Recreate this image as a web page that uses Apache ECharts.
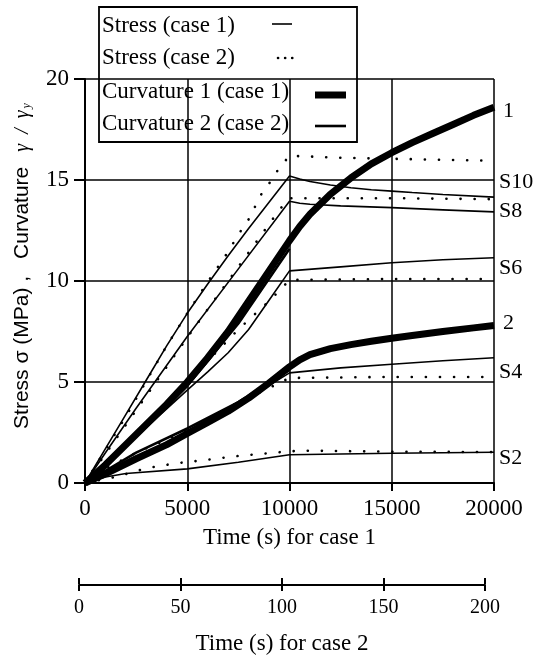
<!DOCTYPE html>
<html>
<head>
<meta charset="utf-8">
<script src="https://cdn.jsdelivr.net/npm/echarts@6/dist/echarts.min.js"></script>
<style>
  html, body { margin: 0; background: #fff; }
  #chart { width: 534px; height: 657px; }
</style>
</head>
<body>
<div id="chart"></div>
<script>
// time in seconds of case 1 (case 2 time = t / 100)
const s10Case1 = [[0,0],[1000,1.7],[2000,3.4],[3000,5.1],[4000,6.8],[5000,8.4],[6000,9.85],[7000,11.25],[8000,12.6],[9000,13.9],[10000,15.2],[10500,15.05],[11000,14.93],[12000,14.75],[13000,14.62],[14000,14.52],[15000,14.45],[16000,14.38],[17500,14.28],[20000,14.15]];
const s8Case1  = [[0,0],[1000,1.5],[2500,3.7],[5000,7.25],[7500,10.6],[10000,13.95],[10500,13.85],[11000,13.8],[12500,13.72],[15000,13.63],[17500,13.52],[20000,13.42]];
const s6Case1  = [[0,0],[2500,2.3],[5000,4.6],[6000,5.5],[7000,6.45],[8000,7.6],[9000,9.05],[10000,10.5],[12500,10.7],[15000,10.9],[17500,11.05],[20000,11.15]];
const s4Case1  = [[0,0],[2500,1.3],[5000,2.5],[7500,3.9],[10000,5.45],[12500,5.7],[15000,5.88],[17500,6.05],[20000,6.2]];
const s2Case1  = [[0,0],[1000,0.3],[2000,0.47],[5000,0.7],[7500,1.03],[10000,1.4],[15000,1.47],[20000,1.52]];

const s10Case2 = [[0,0],[2000,3.3],[4000,6.8],[5000,8.4],[6000,9.95],[7000,11.45],[7500,12.3],[8000,13.05],[8650,14.35],[9100,14.96],[9500,15.6],[10000,16.2],[12500,16.1],[15000,16.05],[17500,16.0],[20000,15.95]];
const s8Case2  = [[0,0],[2500,3.6],[5000,7.2],[7500,10.7],[9130,13.0],[9570,13.6],[10000,14.1],[15000,14.1],[20000,14.05]];
const s6Case2  = [[0,0],[2500,2.5],[5000,5.0],[7500,7.6],[8460,8.5],[9000,9.0],[9530,9.55],[10000,10.05],[15000,10.1],[20000,10.1]];
const s4Case2  = [[0,0],[1000,0.7],[2600,1.55],[4000,2.15],[5300,2.8],[6000,3.15],[7500,4.0],[9000,4.7],[10000,5.2],[15000,5.25],[20000,5.25]];
const s2Case2  = [[0,0],[1500,0.3],[3000,0.73],[4400,0.97],[5900,1.14],[7300,1.32],[8800,1.46],[10000,1.57],[11000,1.6],[15000,1.55],[20000,1.53]];

const curv1Loc1 = [[0,0],[1000,0.9],[2500,2.4],[4000,3.9],[5000,5.0],[6000,6.2],[7000,7.5],[8000,9.0],[9000,10.5],[10000,12.0],[10500,12.7],[11000,13.3],[12000,14.3],[13000,15.1],[14000,15.8],[15000,16.35],[16000,16.85],[17000,17.3],[18000,17.75],[19000,18.2],[20000,18.6]];
const curv1Loc2 = [[0,0],[1000,0.45],[2500,1.2],[4000,1.9],[5000,2.45],[6000,3.0],[7000,3.55],[8000,4.2],[9000,4.95],[10000,5.75],[10500,6.1],[11000,6.35],[12000,6.65],[13000,6.85],[14000,7.02],[15000,7.17],[16000,7.3],[17500,7.5],[19000,7.68],[20000,7.8]];
const curv2Loc1 = [[0,0],[2500,2.3],[5000,4.8],[7500,7.9],[10000,11.6]];
const curv2Loc2 = [[0,0],[2500,1.5],[5000,2.7],[7500,4.0],[10000,5.6]];

const yTicks = [0, 5, 10, 15, 20];
const xTicksCase1 = [0, 5000, 10000, 15000, 20000];
const xTicksCase2 = [0, 50, 100, 150, 200];
const legendNames = ['Stress (case 1)', 'Stress (case 2)', 'Curvature 1 (case 1)', 'Curvature 2 (case 2)'];

const SERIF = '"Liberation Serif", "Times New Roman", serif';
const SANS = '"Liberation Sans", Arial, sans-serif';

const chart = echarts.init(document.getElementById('chart'));

const solid = { color: '#000', width: 1.6, type: 'solid' };
const dotted = { color: '#000', width: 2.6, type: [0.1, 14], cap: 'round' };
const thick = { color: '#000', width: 7, type: 'solid', join: 'round' };
const medium = { color: '#000', width: 2.6, type: 'solid' };

function mkLine(name, data, style, opts) {
  opts = opts || {};
  const s = {
    type: 'line',
    name: name,
    data: data,
    xAxisIndex: 0,
    yAxisIndex: 0,
    showSymbol: false,
    symbol: 'none',
    lineStyle: style,
    smooth: false,
    z: opts.z || 2,
    silent: true
  };
  if (opts.label) {
    s.endLabel = {
      show: true,
      formatter: opts.label,
      color: '#000',
      fontFamily: SERIF,
      fontSize: 22,
      distance: opts.dist || 5,
      offset: [0, opts.dy || 0]
    };
  }
  return s;
}

const series = [
  mkLine('Curvature 1 (case 1)', curv1Loc1, thick, { label: '1', dy: 4, dist: 9, z: 3 }),
  mkLine('Curvature 1 (case 1)', curv1Loc2, thick, { label: '2', dy: -2, dist: 9, z: 3 }),
  mkLine('Curvature 2 (case 2)', curv2Loc1, medium),
  mkLine('Curvature 2 (case 2)', curv2Loc2, medium),
  mkLine('Stress (case 1)', s10Case1, solid, { label: 'S10', dy: -15 }),
  mkLine('Stress (case 1)', s8Case1, solid, { label: 'S8', dy: -1 }),
  mkLine('Stress (case 1)', s6Case1, solid, { label: 'S6', dy: 10 }),
  mkLine('Stress (case 1)', s4Case1, solid, { label: 'S4', dy: 14 }),
  mkLine('Stress (case 1)', s2Case1, solid, { label: 'S2', dy: 6 }),
  mkLine('Stress (case 2)', s10Case2, dotted),
  mkLine('Stress (case 2)', s8Case2, dotted),
  mkLine('Stress (case 2)', s6Case2, dotted),
  mkLine('Stress (case 2)', s4Case2, dotted),
  mkLine('Stress (case 2)', s2Case2, dotted)
];

const axisBlack = { color: '#000', width: 2 };
const plainNum = function (v) { return String(v); };
const tickFont = { color: '#000', fontFamily: SERIF, fontSize: 23, formatter: plainNum };

// legend box drawn as graphic
const legendRows = [26, 58, 92, 124];
const legendKids = [
  { type: 'rect', shape: { x: 99, y: 7, width: 258, height: 135 },
    style: { fill: '#fff', stroke: '#000', lineWidth: 1.8 } }
];
legendNames.forEach(function (n, i) {
  legendKids.push({ type: 'text', x: 102, y: legendRows[i],
    style: { text: n, fill: '#000', font: '23px ' + SERIF, verticalAlign: 'middle' } });
});
legendKids.push({ type: 'line', shape: { x1: 272, y1: 24, x2: 292, y2: 24 }, style: { stroke: '#000', lineWidth: 1.6 } });
legendKids.push({ type: 'line', shape: { x1: 278, y1: 58, x2: 294, y2: 58 },
  style: { stroke: '#000', lineWidth: 2.6, lineDash: [0.1, 7], lineCap: 'round' } });
legendKids.push({ type: 'line', shape: { x1: 315, y1: 95, x2: 346, y2: 95 }, style: { stroke: '#000', lineWidth: 7 } });
legendKids.push({ type: 'line', shape: { x1: 315, y1: 126, x2: 346, y2: 126 }, style: { stroke: '#000', lineWidth: 2.6 } });

const option = {
  animation: false,
  backgroundColor: '#fff',
  grid: [
    { left: 85, right: 40, top: 79, bottom: 174 },
    { left: 79, right: 49, top: 584, height: 1 }
  ],
  xAxis: [
    {
      gridIndex: 0, type: 'value',
      min: xTicksCase1[0], max: xTicksCase1[xTicksCase1.length - 1], interval: xTicksCase1[1] - xTicksCase1[0],
      axisLine: { lineStyle: axisBlack },
      axisTick: { length: 8, lineStyle: axisBlack },
      axisLabel: Object.assign({ margin: 14 }, tickFont),
      splitLine: { show: true, lineStyle: { color: '#000', width: 1.5 } },
      name: 'Time (s) for case 1', nameLocation: 'middle', nameGap: 43,
      nameTextStyle: { color: '#000', fontFamily: SERIF, fontSize: 23 }
    },
    {
      gridIndex: 1, type: 'value', position: 'bottom',
      min: xTicksCase2[0], max: xTicksCase2[xTicksCase2.length - 1], interval: xTicksCase2[1] - xTicksCase2[0],
      axisLine: { lineStyle: axisBlack },
      axisTick: { length: 6, lineStyle: axisBlack },
      axisLabel: Object.assign({ margin: 13 }, tickFont, { fontSize: 20 }),
      splitLine: { show: false },
      name: 'Time (s) for case 2', nameLocation: 'middle', nameGap: 47,
      nameTextStyle: { color: '#000', fontFamily: SERIF, fontSize: 23 }
    },
    {
      gridIndex: 1, type: 'value', position: 'top',
      min: xTicksCase2[0], max: xTicksCase2[xTicksCase2.length - 1], interval: xTicksCase2[1] - xTicksCase2[0],
      axisLine: { show: false },
      axisTick: { length: 6, lineStyle: axisBlack },
      axisLabel: { show: false },
      splitLine: { show: false }
    }
  ],
  yAxis: [
    {
      gridIndex: 0, type: 'value',
      min: yTicks[0], max: yTicks[yTicks.length - 1], interval: yTicks[1] - yTicks[0],
      axisLine: { lineStyle: axisBlack },
      axisTick: { length: 11, lineStyle: axisBlack },
      axisLabel: Object.assign({ margin: 16 }, tickFont),
      splitLine: { show: true, lineStyle: { color: '#000', width: 1.5 } },
      name: '{a|Stress σ (MPa) ,}{k|Curvature}{b|γ  /  γ}{c|y}',
      nameLocation: 'middle', nameRotate: 90, nameGap: 52,
      nameTextStyle: {
        color: '#000',
        rich: {
          a: { fontFamily: SANS, fontSize: 21, color: '#000', padding: [0, 0, 0, 30] },
          k: { fontFamily: SANS, fontSize: 21, color: '#000', padding: [0, 0, 0, 17] },
          b: { fontFamily: SERIF, fontStyle: 'italic', fontSize: 20, color: '#000', padding: [0, 0, 0, 15] },
          c: { fontFamily: SERIF, fontStyle: 'italic', fontSize: 12, color: '#000', verticalAlign: 'bottom', padding: [8, 0, 0, 2] }
        }
      }
    },
    { gridIndex: 1, type: 'value', show: false, min: 0, max: 1 }
  ],
  series: series,
  graphic: [{ type: 'group', z: 100, children: legendKids }]
};

chart.setOption(option);
</script>
</body>
</html>
